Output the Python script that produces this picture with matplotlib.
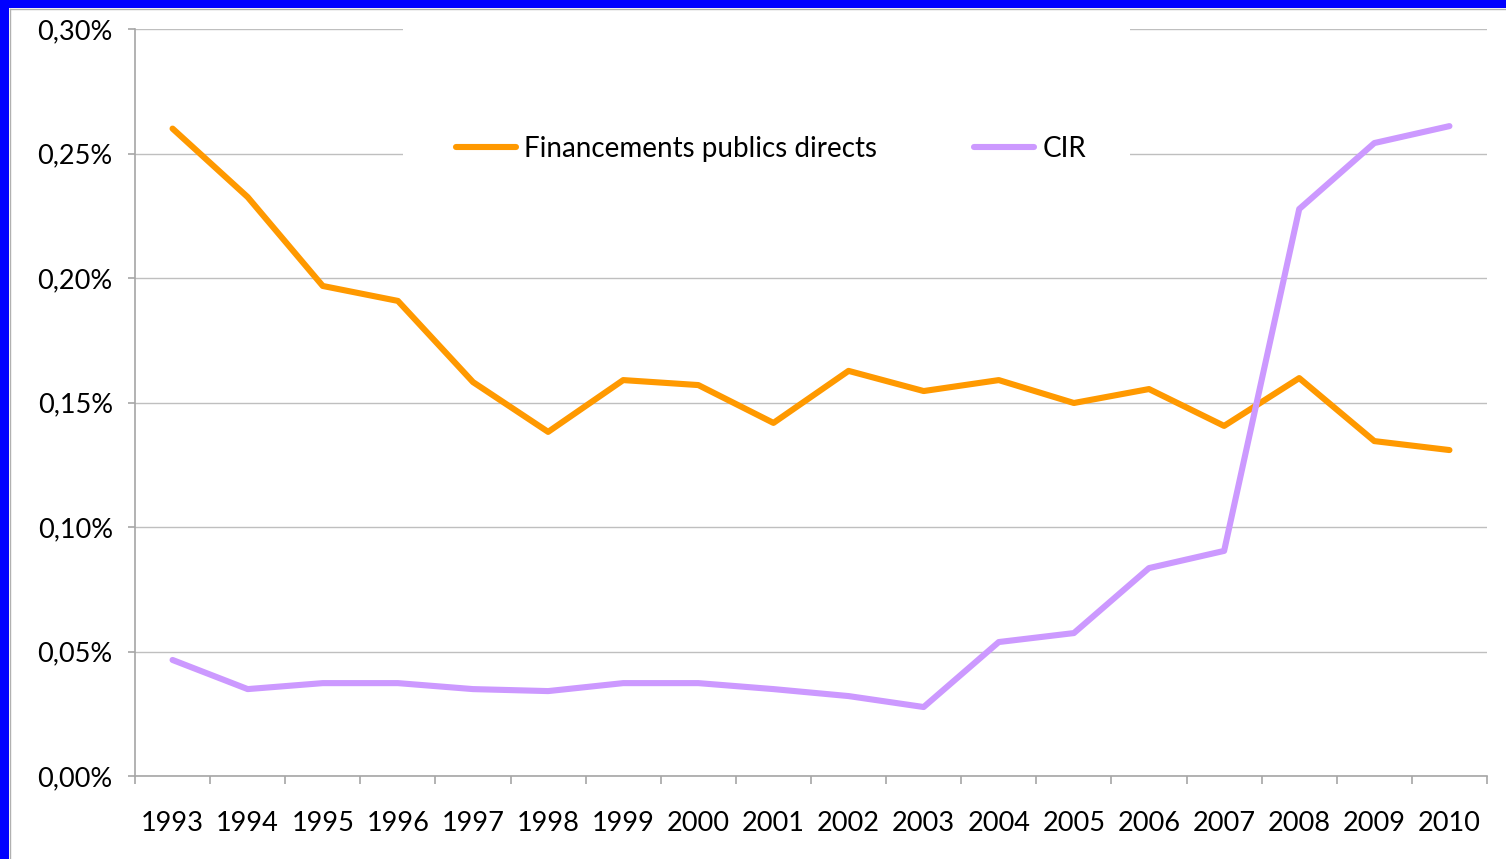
import matplotlib
matplotlib.use("Agg")
import matplotlib.pyplot as plt
from matplotlib.patches import Rectangle
from matplotlib.ticker import FuncFormatter

years = ["1993", "1994", "1995", "1996", "1997", "1998", "1999", "2000", "2001",
         "2002", "2003", "2004", "2005", "2006", "2007", "2008", "2009", "2010"]
financements = [0.260, 0.2325, 0.1968, 0.1908, 0.1582, 0.1382, 0.1590, 0.1570, 0.1418,
                0.1627, 0.1546, 0.1590, 0.1498, 0.1554, 0.1406, 0.1598, 0.1345, 0.1309]
cir = [0.0466, 0.0349, 0.0373, 0.0373, 0.0349, 0.0341, 0.0373, 0.0373, 0.0349,
       0.0321, 0.0277, 0.0538, 0.0574, 0.0835, 0.0904, 0.2277, 0.2542, 0.2610]
y_ticks = [0.00, 0.05, 0.10, 0.15, 0.20, 0.25, 0.30]

plt.rcParams["font.family"] = ["Lato", "DejaVu Sans"]

W, H = 1506, 859
fig = plt.figure(figsize=(W / 100, H / 100), dpi=100)
fig.patch.set_facecolor("white")

# blue frame along the top and left edges
fig.add_artist(Rectangle((0, 1 - 8 / H), 1, 8 / H, transform=fig.transFigure,
                         facecolor="#0000FF", edgecolor="none"))
fig.add_artist(Rectangle((0, 0), 9 / W, 1, transform=fig.transFigure,
                         facecolor="#0000FF", edgecolor="none"))
fig.add_artist(plt.Line2D([9.5 / W, 1], [1 - 8.5 / H, 1 - 8.5 / H], transform=fig.transFigure,
                          color="#B0B0B0", lw=1))
fig.add_artist(plt.Line2D([9.5 / W, 9.5 / W], [0, 1 - 8.5 / H], transform=fig.transFigure,
                          color="#B0B0B0", lw=1))

left, right, top, bottom = 135, 1487, 29, 776
ax = fig.add_axes([left / W, 1 - bottom / H, (right - left) / W, (bottom - top) / H])

x = list(range(len(years)))
ax.plot(x, financements, color="#FF9900", lw=4.4, solid_capstyle="round",
        solid_joinstyle="round", label="Financements publics directs", zorder=3)
ax.plot(x, cir, color="#CC99FF", lw=4.4, solid_capstyle="round",
        solid_joinstyle="round", label="CIR", zorder=3)

ax.set_xlim(-0.5, len(years) - 0.5)
ax.set_ylim(0, 0.30)
ax.set_yticks(y_ticks)
ax.yaxis.set_major_formatter(FuncFormatter(lambda v, p: f"{v:.2f}%".replace(".", ",")))
ax.set_xticks(x)
ax.set_xticklabels(years)
ax.set_xticks([i - 0.5 for i in range(len(years) + 1)], minor=True)

ax.grid(axis="y", color="#BFBFBF", lw=1)
ax.set_axisbelow(True)
for s in ["top", "right"]:
    ax.spines[s].set_visible(False)
for s in ["left", "bottom"]:
    ax.spines[s].set_color("#A6A6A6")
    ax.spines[s].set_linewidth(1.2)

ax.tick_params(axis="x", which="major", length=0, pad=25, labelsize=19.5)
ax.tick_params(axis="x", which="minor", length=6, color="#A6A6A6", width=1.2)
ax.tick_params(axis="y", length=5, color="#A6A6A6", width=1.2, pad=11, labelsize=19.5)

# white panel behind the legend (hides the grid lines there)
x0 = (403 - left) / (right - left)
x1 = (1130 - left) / (right - left)
y0 = (bottom - 168) / (bottom - top)
y1 = (bottom - 20) / (bottom - top)
ax.add_patch(Rectangle((x0, y0), x1 - x0, y1 - y0, transform=ax.transAxes,
                       facecolor="white", edgecolor="none", zorder=1, clip_on=False))

leg = ax.legend(loc="center", bbox_to_anchor=((771 - left) / (right - left),
                                              (bottom - 149) / (bottom - top)),
                ncol=2, frameon=False, fontsize=20, handlelength=2.16,
                handletextpad=0.29, columnspacing=3.5)
for h in leg.get_lines():
    h.set_linewidth(4.4)

fig.savefig("out.png", dpi=100, facecolor="white")
